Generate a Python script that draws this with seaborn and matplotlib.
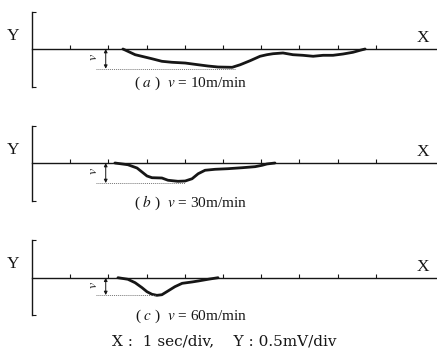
import numpy as np
import pandas as pd
import matplotlib
matplotlib.use("Agg")
import matplotlib.pyplot as plt
import seaborn as sns

# -----------------------------
# Dados (t em sec, y em mV)
# -----------------------------
t_a = [2.38, 2.70, 3.14, 3.40, 3.66, 4.01, 4.35, 4.61, 4.87, 5.24, 5.45, 5.71, 5.97,
       6.15, 6.31, 6.57, 6.83, 7.09, 7.36, 7.62, 7.88, 8.14, 8.40, 8.59, 8.72]
y_a = [0.0, -0.076, -0.13, -0.164, -0.177, -0.187, -0.21, -0.227, -0.24, -0.244, -0.21,
       -0.156, -0.097, -0.076, -0.063, -0.053, -0.076, -0.084, -0.097, -0.084, -0.084,
       -0.067, -0.044, -0.017, 0.0]

t_b = [2.17, 2.51, 2.75, 2.88, 3.01, 3.14, 3.40, 3.56, 3.82, 4.01, 4.19, 4.35, 4.53,
       4.79, 5.13, 5.50, 5.84, 6.02, 6.15, 6.36]
y_b = [0.0, -0.023, -0.067, -0.12, -0.173, -0.196, -0.20, -0.23, -0.244, -0.24, -0.21,
       -0.143, -0.097, -0.084, -0.076, -0.063, -0.049, -0.031, -0.013, 0.0]

t_c = [2.25, 2.51, 2.70, 2.88, 3.01, 3.14, 3.27, 3.40, 3.56, 3.74, 3.93, 4.19, 4.35,
       4.61, 4.87]
y_c = [0.0, -0.021, -0.067, -0.133, -0.187, -0.221, -0.235, -0.227, -0.177, -0.12,
       -0.075, -0.057, -0.044, -0.021, 0.0]

labels = ["a", "b", "c"]
speeds = [10, 30, 60]
depths = [-0.263, -0.267, -0.231]
depth_end = [5.31, 4.00, 3.22]
caption_y = [-0.46, -0.53, -0.52]
x_ticks = [1, 2, 3, 4, 5, 6, 7, 8, 9]

# -----------------------------
# Estilo
# -----------------------------
sns.set_style("white")
plt.rcParams["font.family"] = ["Liberation Serif", "DejaVu Serif"]
plt.rcParams["mathtext.fontset"] = "stix"

W, H = 437, 353
PX_T = 38.2   # px por sec
PX_Y = 75.0   # px por mV
baselines = [49, 163, 277.7]
YL = 0.62

fig = plt.figure(figsize=(W / 100, H / 100), dpi=100)
ink = "#161616"

series = [(t_a, y_a), (t_b, y_b), (t_c, y_c)]
for i, (tt, yy) in enumerate(series):
    top_px = baselines[i] - YL * PX_Y
    h_px = 2 * YL * PX_Y
    ax = fig.add_axes([0, (H - top_px - h_px) / H, 1, h_px / H])
    x_max = (W - 32) / PX_T
    ax.set_xlim(-32 / PX_T, x_max)
    ax.set_ylim(-YL, YL)
    ax.patch.set_alpha(0)

    df = pd.DataFrame({"t": tt, "y": yy})
    sns.lineplot(data=df, x="t", y="y", ax=ax, color=ink, lw=2.0, sort=False)

    # eixos estilo osciloscópio
    for s in ["top", "right"]:
        ax.spines[s].set_visible(False)
    ax.spines["bottom"].set_position(("data", 0))
    ax.spines["bottom"].set_bounds(0, x_max)
    ax.spines["left"].set_position(("data", 0))
    ax.spines["left"].set_bounds(-0.5, 0.5)
    for s in ["bottom", "left"]:
        ax.spines[s].set_color(ink)
        ax.spines[s].set_linewidth(1.0)
    ax.set_xticks(x_ticks)
    ax.set_yticks([-0.5, 0.5])
    ax.tick_params(direction="in", length=3, width=0.8, color=ink,
                   labelbottom=False, labelleft=False, bottom=True, left=True)
    ax.set_xlabel("")
    ax.set_ylabel("")

    # profundidade v
    ax.plot([1.68, depth_end[i]], [depths[i], depths[i]], color="#777777",
            lw=0.7, ls=(0, (1, 1)))
    ax.annotate("", xy=(1.93, depths[i]), xytext=(1.93, 0),
                arrowprops=dict(arrowstyle="<|-|>", color=ink, lw=0.7,
                                mutation_scale=5, shrinkA=0, shrinkB=0))
    ax.text(1.62, depths[i] / 2 + 0.02, r"$v$", rotation=90, ha="center",
            va="center", fontsize=10, color=ink)

    ax.text(-0.5, 0.18, "Y", ha="center", va="center", fontsize=12.5, color=ink)
    ax.text(10.24, 0.14, "X", ha="center", va="center", fontsize=12.5, color=ink)
    ax.text(4.16, caption_y[i],
            r"( $%s$ )  $v$ = %dm/min" % (labels[i], speeds[i]),
            ha="center", va="center", fontsize=11, color=ink, clip_on=False)

fig.text(224 / W, 1 - 341 / H, "X :  1 sec/div,    Y : 0.5mV/div",
         ha="center", va="center", fontsize=11, color=ink,
         family=["DejaVu Serif"])

fig.savefig("out.png", dpi=100)
